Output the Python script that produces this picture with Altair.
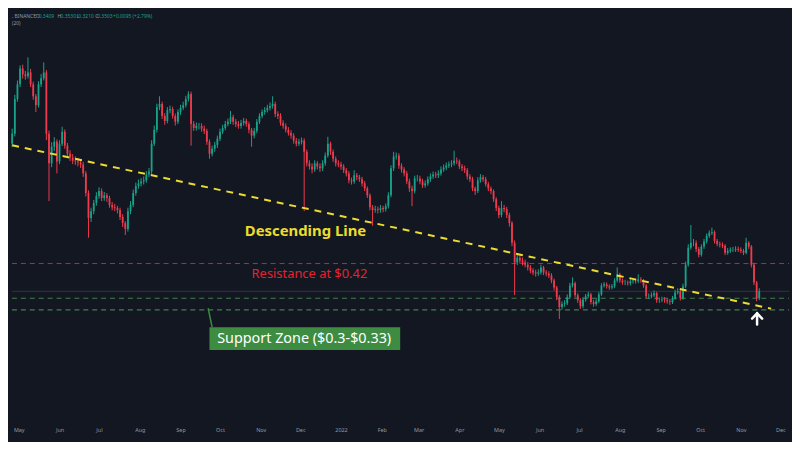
import altair as alt
import pandas as pd

# ---------------- data (2-day candles from 2021-04-26) ----------------
first_open = 0.731
closes = [
    0.757, 0.847, 0.885, 0.926, 0.911, 0.906, 0.916, 0.885, 0.854, 0.831,
    0.885, 0.901, 0.916, 0.757, 0.680, 0.723, 0.736, 0.685, 0.731, 0.762,
    0.726, 0.705, 0.695, 0.687, 0.685, 0.682, 0.677, 0.654, 0.603, 0.538,
    0.556, 0.577, 0.595, 0.608, 0.590, 0.597, 0.590, 0.572, 0.566, 0.564,
    0.559, 0.541, 0.525, 0.510, 0.556, 0.572, 0.603, 0.621, 0.628, 0.633,
    0.636, 0.651, 0.659, 0.731, 0.767, 0.826, 0.834, 0.803, 0.790, 0.818,
    0.821, 0.803, 0.788, 0.813, 0.824, 0.831, 0.847, 0.860, 0.782, 0.772,
    0.777, 0.777, 0.770, 0.764, 0.736, 0.705, 0.718, 0.728, 0.744, 0.762,
    0.772, 0.782, 0.788, 0.800, 0.788, 0.782, 0.777, 0.785, 0.790, 0.782,
    0.767, 0.752, 0.764, 0.788, 0.803, 0.813, 0.818, 0.824, 0.829, 0.834,
    0.808, 0.803, 0.785, 0.777, 0.767, 0.759, 0.752, 0.739, 0.731, 0.736,
    0.739, 0.710, 0.680, 0.672, 0.664, 0.680, 0.672, 0.667, 0.680, 0.700,
    0.731, 0.710, 0.692, 0.680, 0.677, 0.672, 0.662, 0.654, 0.636, 0.633,
    0.649, 0.644, 0.639, 0.628, 0.615, 0.597, 0.566, 0.559, 0.561, 0.559,
    0.564, 0.561, 0.569, 0.597, 0.667, 0.698, 0.700, 0.674, 0.664, 0.654,
    0.633, 0.615, 0.608, 0.641, 0.641, 0.633, 0.623, 0.628, 0.639, 0.646,
    0.651, 0.649, 0.654, 0.664, 0.669, 0.674, 0.677, 0.680, 0.687, 0.685,
    0.672, 0.667, 0.662, 0.646, 0.639, 0.615, 0.608, 0.636, 0.644, 0.639,
    0.626, 0.615, 0.608, 0.587, 0.564, 0.546, 0.564, 0.561, 0.546, 0.525,
    0.474, 0.423, 0.435, 0.428, 0.423, 0.417, 0.410, 0.402, 0.397, 0.394,
    0.397, 0.410, 0.397, 0.394, 0.389, 0.376, 0.358, 0.333, 0.307, 0.315,
    0.317, 0.333, 0.363, 0.369, 0.338, 0.325, 0.309, 0.327, 0.335, 0.340,
    0.320, 0.315, 0.322, 0.340, 0.363, 0.366, 0.361, 0.358, 0.361, 0.376,
    0.392, 0.376, 0.371, 0.371, 0.369, 0.374, 0.376, 0.374, 0.379, 0.376,
    0.363, 0.335, 0.335, 0.338, 0.343, 0.325, 0.325, 0.327, 0.325, 0.322,
    0.320, 0.330, 0.345, 0.348, 0.330, 0.361, 0.417, 0.461, 0.474, 0.474,
    0.458, 0.443, 0.464, 0.477, 0.492, 0.500, 0.502, 0.479, 0.471, 0.469,
    0.466, 0.448, 0.453, 0.456, 0.456, 0.458, 0.456, 0.453, 0.448, 0.474,
    0.464, 0.417, 0.371, 0.330, 0.348,
]
highs = [
    0.770, 0.858, 0.895, 0.934, 0.936, 0.920, 0.955, 0.925, 0.892, 0.860,
    0.893, 0.912, 0.942, 0.922, 0.765, 0.735, 0.748, 0.742, 0.740, 0.775,
    0.768, 0.733, 0.714, 0.704, 0.698, 0.694, 0.690, 0.684, 0.660, 0.610,
    0.565, 0.585, 0.605, 0.618, 0.615, 0.606, 0.603, 0.596, 0.580, 0.575,
    0.570, 0.565, 0.548, 0.530, 0.565, 0.582, 0.612, 0.630, 0.638, 0.642,
    0.646, 0.660, 0.668, 0.740, 0.778, 0.835, 0.854, 0.840, 0.810, 0.826,
    0.830, 0.827, 0.809, 0.820, 0.832, 0.840, 0.855, 0.867, 0.866, 0.790,
    0.786, 0.785, 0.784, 0.778, 0.770, 0.742, 0.726, 0.736, 0.752, 0.770,
    0.780, 0.790, 0.796, 0.816, 0.806, 0.795, 0.790, 0.793, 0.798, 0.796,
    0.788, 0.772, 0.772, 0.795, 0.810, 0.820, 0.826, 0.832, 0.838, 0.854,
    0.840, 0.815, 0.810, 0.792, 0.784, 0.774, 0.766, 0.758, 0.746, 0.744,
    0.747, 0.745, 0.716, 0.688, 0.680, 0.688, 0.686, 0.680, 0.688, 0.708,
    0.749, 0.736, 0.716, 0.698, 0.688, 0.684, 0.678, 0.668, 0.660, 0.643,
    0.662, 0.655, 0.650, 0.645, 0.634, 0.620, 0.602, 0.572, 0.570, 0.568,
    0.572, 0.570, 0.576, 0.605, 0.675, 0.710, 0.708, 0.706, 0.680, 0.670,
    0.660, 0.640, 0.622, 0.648, 0.650, 0.648, 0.640, 0.636, 0.646, 0.654,
    0.659, 0.658, 0.662, 0.672, 0.677, 0.682, 0.685, 0.688, 0.713, 0.695,
    0.690, 0.678, 0.674, 0.668, 0.652, 0.645, 0.620, 0.644, 0.652, 0.650,
    0.645, 0.632, 0.620, 0.612, 0.592, 0.570, 0.582, 0.572, 0.567, 0.552,
    0.530, 0.480, 0.445, 0.442, 0.436, 0.430, 0.424, 0.416, 0.408, 0.404,
    0.405, 0.417, 0.414, 0.403, 0.400, 0.395, 0.381, 0.362, 0.338, 0.322,
    0.325, 0.340, 0.370, 0.384, 0.373, 0.343, 0.330, 0.333, 0.341, 0.347,
    0.344, 0.326, 0.329, 0.346, 0.369, 0.372, 0.371, 0.366, 0.367, 0.382,
    0.410, 0.396, 0.381, 0.378, 0.376, 0.380, 0.382, 0.381, 0.392, 0.385,
    0.380, 0.367, 0.342, 0.345, 0.350, 0.347, 0.332, 0.334, 0.333, 0.330,
    0.328, 0.336, 0.352, 0.356, 0.352, 0.368, 0.425, 0.470, 0.520, 0.484,
    0.480, 0.463, 0.470, 0.484, 0.498, 0.506, 0.513, 0.506, 0.484, 0.477,
    0.475, 0.470, 0.460, 0.462, 0.463, 0.465, 0.464, 0.462, 0.458, 0.487,
    0.478, 0.468, 0.422, 0.375, 0.356,
]
lows = [
    0.722, 0.750, 0.840, 0.878, 0.900, 0.897, 0.900, 0.878, 0.845, 0.813,
    0.825, 0.878, 0.895, 0.740, 0.582, 0.670, 0.712, 0.654, 0.678, 0.725,
    0.718, 0.695, 0.686, 0.678, 0.676, 0.672, 0.668, 0.645, 0.594, 0.487,
    0.528, 0.548, 0.570, 0.588, 0.582, 0.583, 0.580, 0.565, 0.558, 0.556,
    0.550, 0.533, 0.515, 0.494, 0.503, 0.548, 0.566, 0.596, 0.614, 0.620,
    0.625, 0.630, 0.644, 0.652, 0.725, 0.760, 0.818, 0.795, 0.780, 0.784,
    0.810, 0.796, 0.778, 0.782, 0.806, 0.818, 0.825, 0.840, 0.726, 0.764,
    0.765, 0.768, 0.762, 0.756, 0.728, 0.692, 0.698, 0.710, 0.720, 0.738,
    0.756, 0.766, 0.776, 0.782, 0.780, 0.774, 0.770, 0.770, 0.778, 0.775,
    0.758, 0.723, 0.745, 0.758, 0.782, 0.797, 0.806, 0.812, 0.817, 0.822,
    0.800, 0.795, 0.778, 0.770, 0.760, 0.752, 0.744, 0.731, 0.724, 0.725,
    0.729, 0.556, 0.672, 0.664, 0.654, 0.658, 0.664, 0.658, 0.660, 0.674,
    0.695, 0.702, 0.684, 0.672, 0.670, 0.664, 0.655, 0.646, 0.628, 0.625,
    0.627, 0.636, 0.632, 0.620, 0.608, 0.590, 0.558, 0.518, 0.552, 0.550,
    0.552, 0.553, 0.555, 0.563, 0.592, 0.660, 0.690, 0.666, 0.656, 0.646,
    0.626, 0.606, 0.569, 0.602, 0.633, 0.626, 0.616, 0.617, 0.622, 0.632,
    0.640, 0.642, 0.642, 0.648, 0.658, 0.662, 0.668, 0.670, 0.674, 0.678,
    0.665, 0.660, 0.655, 0.638, 0.632, 0.608, 0.598, 0.603, 0.630, 0.632,
    0.620, 0.608, 0.600, 0.580, 0.556, 0.538, 0.540, 0.553, 0.538, 0.516,
    0.465, 0.338, 0.416, 0.420, 0.415, 0.410, 0.402, 0.395, 0.390, 0.386,
    0.388, 0.391, 0.390, 0.387, 0.382, 0.369, 0.350, 0.325, 0.276, 0.300,
    0.308, 0.312, 0.328, 0.358, 0.332, 0.318, 0.302, 0.304, 0.321, 0.330,
    0.314, 0.308, 0.310, 0.318, 0.336, 0.358, 0.355, 0.352, 0.353, 0.356,
    0.371, 0.370, 0.365, 0.364, 0.363, 0.363, 0.368, 0.368, 0.369, 0.370,
    0.357, 0.329, 0.328, 0.330, 0.333, 0.318, 0.318, 0.320, 0.318, 0.316,
    0.313, 0.315, 0.326, 0.340, 0.324, 0.326, 0.356, 0.412, 0.456, 0.465,
    0.450, 0.436, 0.438, 0.458, 0.472, 0.487, 0.494, 0.472, 0.465, 0.462,
    0.460, 0.442, 0.443, 0.448, 0.450, 0.450, 0.450, 0.447, 0.442, 0.444,
    0.458, 0.410, 0.364, 0.322, 0.325,
]

resistance_level = [0.42]
support_levels = [0.33, 0.30]
last_price = [0.348]

trend_dates = ["2021-04-26", "2022-11-24"]
trend_prices = [0.727, 0.303]

desc_label = {"text": "Descending Line", "date": "2021-12-05", "price": 0.505}
res_label = {"text": "Resistance at $0.42", "date": "2021-12-08", "price": 0.394}
sup_label = {"text": "Support Zone ($0.3-$0.33)", "date": "2021-12-04", "price": 0.225}
sup_box_dates = ["2021-09-23", "2022-02-15"]
sup_box_prices = [0.255, 0.196]
pointer_dates = ["2021-09-22", "2021-09-25"]
pointer_prices = [0.304, 0.255]

# arrow drawn as two polylines: head (left arm, tip, right arm) and shaft
arrow_seg = ["head", "head", "head", "shaft", "shaft"]
arrow_dates = ["2022-11-09 12:00", "2022-11-13 08:00", "2022-11-17 04:00",
               "2022-11-13 08:00", "2022-11-13 08:00"]
arrow_prices = [0.277, 0.291, 0.277, 0.291, 0.262]

# visible window of the chart (time range and price range)
x_range = ["2021-04-25 20:00", "2022-12-07 15:00"]
y_range = [-0.002, 1.0704]

header_date = "2021-04-25 20:00"
header_prices = [1.062, 1.045]
header_parts = [", BINANCE", "O", "0.3409", "H", "0.3530", "L", "0.3210", "C", "0.3503", "+0.0095 (+2.79%)"]
header_sub = "(20)"

# ---------------- styles ----------------
BG = "#131722"
UP = "#17a38b"
DOWN = "#ee3b4d"
YELLOW = "#ecdc2f"
RED = "#c9272f"
GREEN_LINE = "#3f8149"
GREEN_BOX = "#3d8c42"
GRAY = "#9598a1"
W, H = 784, 417

opens = [first_open] + closes[:-1]
dates = pd.date_range("2021-04-26", periods=len(closes), freq="2D")
df = pd.DataFrame({"date": dates, "open": opens, "close": closes,
                   "high": highs, "low": lows})
df["up"] = df["close"] >= df["open"]

x_lo, x_hi = pd.Timestamp(x_range[0]), pd.Timestamp(x_range[1])

xaxis = alt.Axis(
    title=None, grid=False, domain=False, ticks=False,
    tickCount=alt.TimeIntervalStep(interval="month", step=1),
    labelExpr="month(datum.value) == 0 ? timeFormat(datum.value, '%Y') : timeFormat(datum.value, '%b')",
    labelColor=GRAY, labelFontSize=5.5, labelFont="Noto Sans", labelPadding=1.5,
    labelOverlap=False,
)

# invisible corners that span the visible window
frame_corners = alt.Chart(pd.DataFrame({"date": [x_lo, x_hi], "price": y_range})).mark_point(
    opacity=0).encode(
    x=alt.X("date:T", scale=alt.Scale(nice=False, padding=0), axis=xaxis),
    y=alt.Y("price:Q", scale=alt.Scale(nice=False, zero=False, padding=0), axis=None),
)

candle_color = alt.Color("up:N", scale=alt.Scale(domain=[True, False], range=[UP, DOWN]), legend=None)

wicks = alt.Chart(df).mark_rule(strokeWidth=1).encode(
    x="date:T", y="low:Q", y2="high:Q", color=candle_color)
bodies = alt.Chart(df).mark_bar(size=1.8).encode(
    x="date:T", y="open:Q", y2="close:Q", color=candle_color)


def hline(levels, color, width, dash=None):
    frame = pd.DataFrame({"price": levels, "d1": [x_lo] * len(levels), "d2": [x_hi] * len(levels)})
    kw = dict(color=color, strokeWidth=width)
    if dash:
        kw["strokeDash"] = dash
    return alt.Chart(frame).mark_rule(**kw).encode(x="d1:T", x2="d2:T", y="price:Q")


res_rule = hline(resistance_level, RED, 1, [5, 4])
sup_rule = hline(support_levels, GREEN_LINE, 1.2, [5, 4])
last_rule = hline(last_price, "#2c3a3d", 1)

trend = alt.Chart(pd.DataFrame({"date": pd.to_datetime(trend_dates), "price": trend_prices})).mark_line(
    color=YELLOW, strokeWidth=2, strokeDash=[7, 6]).encode(x="date:T", y="price:Q")


def label(d, color, size, weight="normal"):
    frame = pd.DataFrame({"date": pd.to_datetime([d["date"]]), "price": [d["price"]], "t": [d["text"]]})
    return alt.Chart(frame).mark_text(color=color, fontSize=size, fontWeight=weight,
                                      font="Noto Sans", align="center", baseline="middle").encode(
        x="date:T", y="price:Q", text="t:N")


desc_text = label(desc_label, YELLOW, 15, "bold")
res_text = label(res_label, "#e3242f", 13)

box = alt.Chart(pd.DataFrame({"d1": pd.to_datetime([sup_box_dates[0]]), "d2": pd.to_datetime([sup_box_dates[1]]),
                              "p1": [sup_box_prices[0]], "p2": [sup_box_prices[1]]})).mark_rect(
    color=GREEN_BOX).encode(x="d1:T", x2="d2:T", y="p1:Q", y2="p2:Q")
pointer = alt.Chart(pd.DataFrame({"date": pd.to_datetime(pointer_dates), "price": pointer_prices})).mark_line(
    color=GREEN_BOX, strokeWidth=1.5).encode(x="date:T", y="price:Q")
sup_text = label(sup_label, "#ffffff", 14.5)

arrow = alt.Chart(pd.DataFrame({"seg": arrow_seg, "date": pd.to_datetime(arrow_dates),
                                "price": arrow_prices})).mark_line(
    color="#ffffff", strokeWidth=2.5, strokeCap="round").encode(
    x="date:T", y="price:Q", detail="seg:N")

# header (legend line of the original chart), laid out with pixel offsets
offsets = [0, 24, 27, 46, 49, 65, 67, 84, 86, 102]
header_layers = []
for i, (t, dx) in enumerate(zip(header_parts, offsets)):
    col = GRAY if i in (0, 1, 3, 5, 7) else UP
    header_layers.append(
        alt.Chart(pd.DataFrame({"date": [pd.Timestamp(header_date)], "price": [header_prices[0]], "t": [t]}))
        .mark_text(color=col, fontSize=5, font="Noto Sans", align="left", baseline="middle", dx=dx)
        .encode(x="date:T", y="price:Q", text="t:N"))
header_layers.append(
    alt.Chart(pd.DataFrame({"date": [pd.Timestamp(header_date)], "price": [header_prices[1]], "t": [header_sub]}))
    .mark_text(color=GRAY, fontSize=5, font="Noto Sans", align="left", baseline="middle")
    .encode(x="date:T", y="price:Q", text="t:N"))

chart = alt.layer(
    frame_corners, res_rule, sup_rule, last_rule, wicks, bodies, trend,
    desc_text, res_text, pointer, box, sup_text, arrow,
    *header_layers,
).properties(
    width=W, height=H, background=BG, padding={"left": 0, "top": 0, "right": 0, "bottom": 7},
).configure_view(strokeWidth=0)

chart.save("out.html", embed_options={"renderer": "svg", "actions": False})
